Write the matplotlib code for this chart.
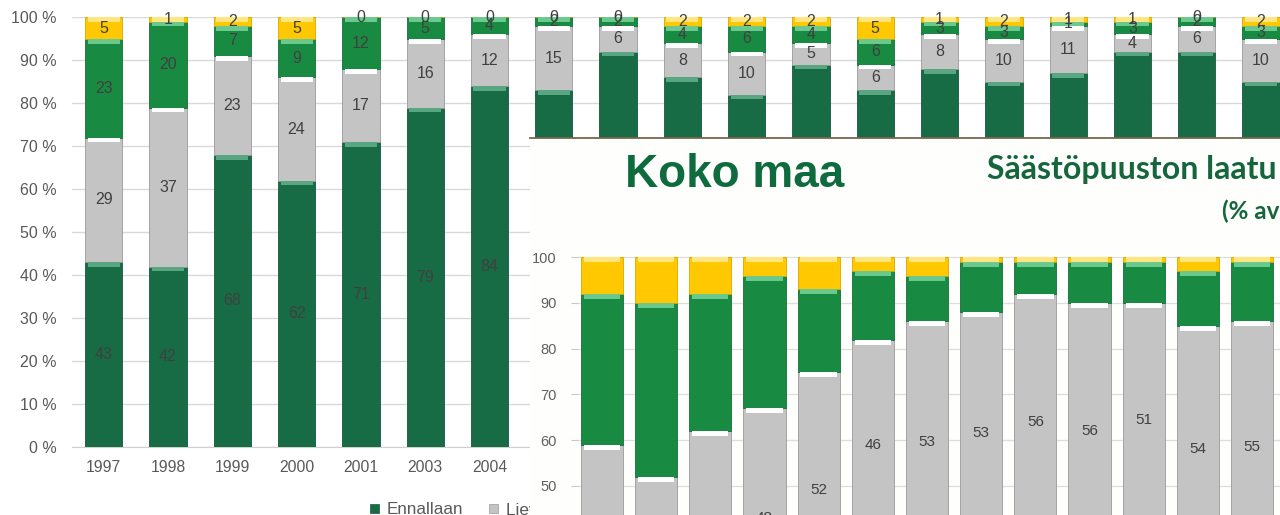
import matplotlib
matplotlib.use('Agg')
import matplotlib.pyplot as plt
from matplotlib.patches import Patch
import numpy as np

plt.rcParams['font.family'] = ['Liberation Sans', 'DejaVu Sans']

# ---------------- data: long series chart (top / left) ----------------
years = ['1997', '1998', '1999', '2000', '2001', '2003', '2004',
         '2005', '2006', '2007', '2008', '2009', '2010', '2011', '2012',
         '2013', '2014', '2015', '2016']
ennallaan = [43, 42, 68, 62, 71, 79, 84, 83, 92, 86, 82, 89, 83, 88, 85, 87, 92, 92, 85]
lievasti = [29, 37, 23, 24, 17, 16, 12, 15, 6, 8, 10, 5, 6, 8, 10, 11, 4, 6, 10]
heikentynyt = [23, 20, 7, 9, 12, 5, 4, 2, 2, 4, 6, 4, 6, 3, 3, 1, 3, 2, 3]
havinnyt = [5, 1, 2, 5, 0, 0, 0, 0, 0, 2, 2, 2, 5, 1, 2, 1, 1, 0, 2]
legend_labels = ['Ennallaan', 'Lievästi heikentynyt', 'Heikentynyt', 'Hävinnyt']

# ---------------- data: "Koko maa" photo chart ----------------
p3_years = ['2004', '2005', '2006', '2007', '2008', '2009', '2010', '2011',
            '2012', '2013', '2014', '2015', '2016']
p3_bottom = [14, 12, 16, 19, 23, 36, 33, 35, 36, 34, 39, 31, 31]
p3_grey = [45, 40, 46, 48, 52, 46, 53, 53, 56, 56, 51, 54, 55]
p3_green = [33, 38, 30, 29, 18, 15, 10, 11, 7, 9, 9, 12, 13]
p3_yellow = [8, 10, 8, 4, 7, 3, 4, 1, 1, 1, 1, 3, 1]

W, H = 1280, 515
fig = plt.figure(figsize=(W / 100, H / 100), dpi=100)
fig.patch.set_facecolor('white')


def fx(px):
    return px / W


def fy(py):
    return 1 - py / H


DARK = '#176c45'
GREY = '#c4c4c4'
GREEN = '#198a42'
YELLOW = '#ffc800'
HI = {DARK: '#5aa582', GREY: '#ffffff', GREEN: '#6cc98e', YELLOW: '#ffe680'}
EDGE = {DARK: '#135a39', GREY: '#9a9a9a', GREEN: '#12703a', YELLOW: '#d9a800'}


def stacked(ax, xpos, series, width, hi_h, fs, label_flags):
    bottom = np.zeros(len(xpos))
    for (vals, col), lab in zip(series, label_flags):
        v = np.array(vals, float)
        ax.bar(xpos, v, width, bottom=bottom, color=col, edgecolor=EDGE[col], linewidth=0.6, zorder=3)
        hh = np.minimum(v, hi_h)
        ax.bar(xpos, hh, width * 0.86, bottom=bottom + v - hh, color=HI[col], linewidth=0, zorder=3.5)
        if lab:
            for xi, b, vi in zip(xpos, bottom, v):
                ax.text(xi, b + vi / 2, str(int(vi)), ha='center', va='center', fontsize=fs,
                        color='#404040', zorder=4, clip_on=False)
        bottom += v


# ---------------- main chart ----------------
ax1 = fig.add_axes([fx(72), fy(447), fx(1280 - 72), (447 - 17.3) / H], zorder=1)
x = np.arange(len(years))
stacked(ax1, x, [(ennallaan, DARK), (lievasti, GREY), (heikentynyt, GREEN), (havinnyt, YELLOW)],
        0.58, 1.1, 11.5, [True, True, True, True])

ax1.set_xlim(-0.493, (1280 - 103.7) / 64.3)
ax1.set_ylim(0, 100)
ax1.set_yticks(range(0, 101, 10))
ax1.set_yticklabels([f'{t} %' for t in range(0, 101, 10)])
ax1.set_xticks(x)
ax1.set_xticklabels(years)
ax1.yaxis.grid(True, color='#d9d9d9', linewidth=1)
ax1.set_axisbelow(True)
for s in ['top', 'right', 'left']:
    ax1.spines[s].set_visible(False)
ax1.spines['bottom'].set_color('#d0d0d0')
ax1.tick_params(axis='y', length=0, pad=11, labelsize=11.5, labelcolor='#595959')
ax1.tick_params(axis='x', length=0, pad=9, labelsize=11.3, labelcolor='#595959')

handles = [Patch(facecolor=c, edgecolor=EDGE[c], linewidth=0.5) for c in (DARK, GREY, GREEN, YELLOW)]
ax1.legend(handles, legend_labels, loc='center left', bbox_to_anchor=(fx(370), fy(510)),
           bbox_transform=fig.transFigure, ncol=4, frameon=False, fontsize=12.3,
           handlelength=0.5, handleheight=0.5, handletextpad=0.5, columnspacing=1.5,
           labelcolor='#595959', borderaxespad=0, borderpad=0)

# ---------------- photo overlay ----------------
ax_bg = fig.add_axes([fx(530), 0, fx(750), (515 - 138) / H], zorder=5)
ax_bg.set_facecolor('#fefefc')
ax_bg.set_xticks([])
ax_bg.set_yticks([])
for s in ['bottom', 'right', 'left']:
    ax_bg.spines[s].set_visible(False)
ax_bg.spines['top'].set_color('#7a6550')
ax_bg.spines['top'].set_linewidth(1.3)

ax_bg.text(fx(735), fy(175), 'Koko maa', transform=fig.transFigure, ha='center', va='center',
           fontsize=33, fontweight='bold', color='#0d6b3d')
ax_bg.text(fx(987), fy(169), 'Säästöpuuston laatu', transform=fig.transFigure, ha='left',
           va='center', fontsize=23, fontweight='bold', color='#16663d', family=['Lato', 'DejaVu Sans'])
ax_bg.text(fx(1222), fy(211), '(% avohakkuista)', transform=fig.transFigure, ha='left',
           va='center', fontsize=17.5, fontweight='bold', color='#16663d', family=['Lato', 'DejaVu Sans'])

# ---------------- Koko maa chart ----------------
ax3 = fig.add_axes([fx(577.6), 0, fx(1280 - 577.6), (515 - 250) / H], zorder=6)
ax3.patch.set_alpha(0)
x3 = np.arange(len(p3_years))
stacked(ax3, x3, [(p3_bottom, DARK), (p3_grey, GREY), (p3_green, GREEN), (p3_yellow, YELLOW)],
        0.78, 1.1, 11, [False, True, False, False])

ax3.set_xlim(-0.45, (1280 - 602) / 54.17)
ax3.set_ylim(100 - (515 - 257.3) / 4.57, 100 + (257.3 - 250) / 4.57)
ax3.set_yticks(range(50, 101, 10))
ax3.set_xticks(x3)
ax3.set_xticklabels(p3_years)
ax3.yaxis.grid(True, color='#dedede', linewidth=0.9)
ax3.set_axisbelow(True)
for s in ax3.spines.values():
    s.set_visible(False)
ax3.tick_params(axis='y', length=5, color='#c8c8c8', pad=10, labelsize=10.5, labelcolor='#606060')
ax3.tick_params(axis='x', length=0)

fig.savefig('out.png', dpi=100, facecolor='white')
